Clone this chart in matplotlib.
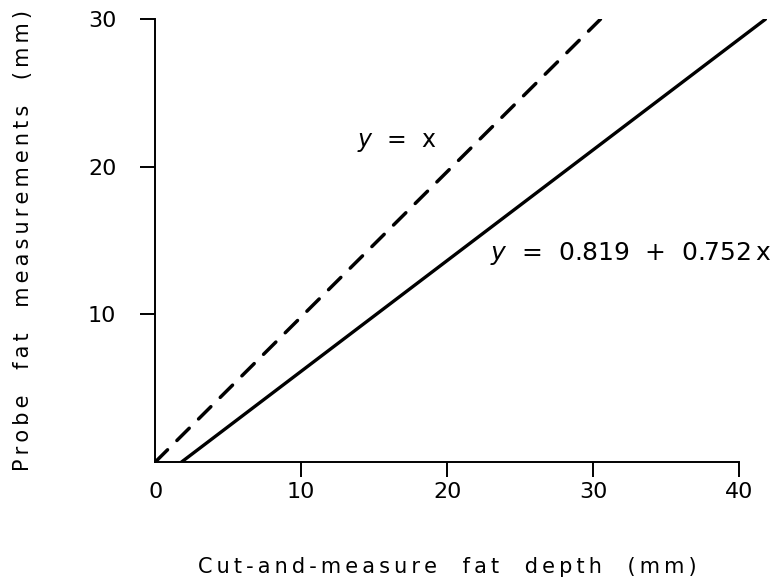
import matplotlib
matplotlib.use("Agg")
import matplotlib.pyplot as plt

# data (mm)
ident_x = [0.0, 30.5]
ident_y = [0.0, 30.0]
fit_x = [1.8, 41.8]
fit_y = [0.0, 30.0]

x_ticks = [0, 10, 20, 30, 40]
y_ticks = [10, 20, 30]

x_label = "Cut-and-measure fat depth (mm)"
y_label = "Probe fat measurements (mm)"


def spaced(s, sep="\u2009"):
    """Mimic the wide letter spacing of the plotter font."""
    return sep.join(s.replace(" ", "  "))


plt.rcParams["font.family"] = "DejaVu Sans"

fig = plt.figure(figsize=(7.84, 5.83), dpi=100)
ax = fig.add_axes([0.198, 0.2075, 0.782, 0.7595])

ax.plot(ident_x, ident_y, color="black", lw=2.5, ls=(0, (5, 3.8)),
        solid_capstyle="round", dash_capstyle="round")
ax.plot(fit_x, fit_y, color="black", lw=2.4, solid_capstyle="round")

ax.set_xlim(0, 42)
ax.set_ylim(0, 30)

for side in ["top", "right"]:
    ax.spines[side].set_visible(False)
ax.spines["bottom"].set_bounds(0, 40)
ax.spines["left"].set_bounds(0, 30)
ax.spines["bottom"].set_linewidth(1.4)
ax.spines["left"].set_linewidth(1.4)

ax.set_xticks(x_ticks)
ax.set_xticklabels([str(t) for t in x_ticks])
ax.set_yticks(y_ticks)
ax.set_yticklabels([str(t) for t in y_ticks])
ax.tick_params(axis="both", direction="out", length=11, width=1.4,
               labelsize=16)
ax.tick_params(axis="x", pad=3.5)
ax.tick_params(axis="y", pad=17)
ax.xaxis.get_major_ticks()[0].tick1line.set_visible(False)

ax.set_xlabel(spaced(x_label), fontsize=15)
ax.xaxis.set_label_coords(20 / 42, -0.215)
ax.set_ylabel(spaced(y_label), fontsize=15)
ax.yaxis.set_label_coords(-0.20, 0.5)

ax.text(13.8, 21.7, "$y$  =  x", fontsize=17, va="center", ha="left")
ax.text(22.9, 14.1, "$y$  =  0.819  +  0.752$\\,$x", fontsize=18,
        va="center", ha="left")

fig.savefig("out.png", dpi=100)
